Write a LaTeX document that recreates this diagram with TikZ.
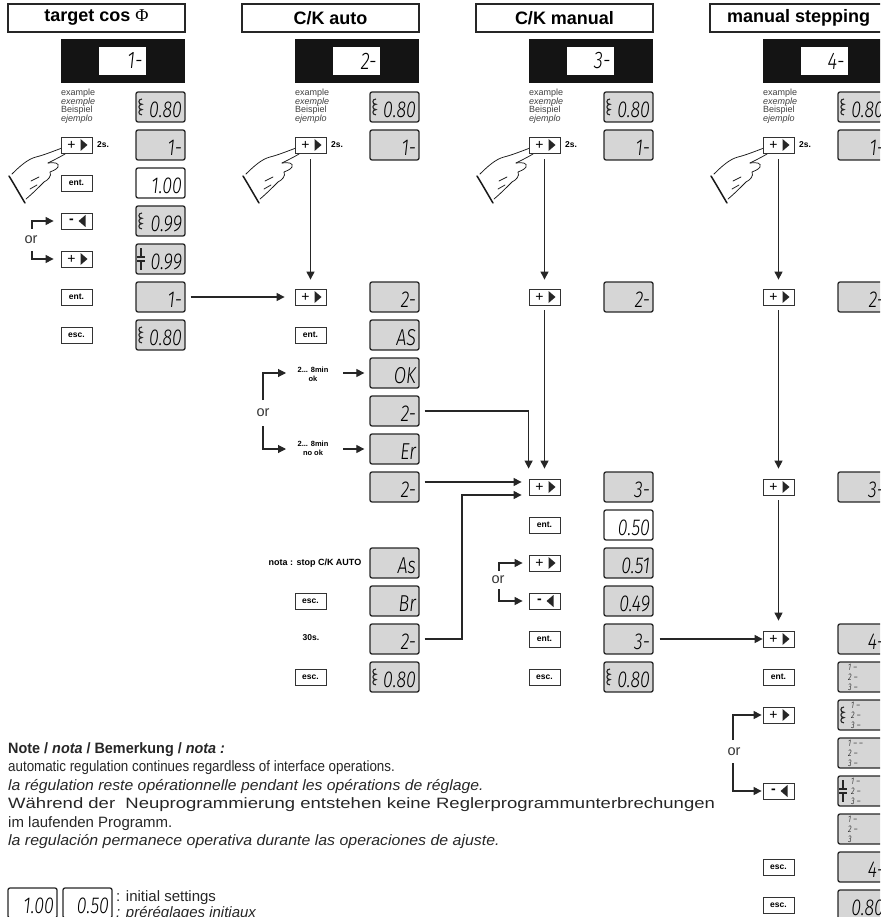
\documentclass[tikz,border=0pt]{standalone}
\usepackage{fontspec}
\usetikzlibrary{arrows.meta}
\setmainfont{Liberation Sans}
\newfontfamily\phifont{Liberation Serif}
\newfontfamily\notefont{Liberation Sans}
\IfFontExistsTF{Fira Sans Light Italic}{\newfontfamily\segfont{Fira Sans Light Italic}[FakeStretch=0.78]}{%
 \IfFontExistsTF{FiraSans-LightItalic.otf}{\newfontfamily\segfont{FiraSans-LightItalic.otf}[FakeStretch=0.78]}{%
 \newfontfamily\segfont{Liberation Sans}[FakeSlant=0.2,FakeStretch=0.8]}}

\tikzset{
 hdr/.style={draw=black!85, line width=1.2pt, minimum width=177pt, minimum height=28pt, inner sep=0pt, font=\bfseries\fontsize{18}{20}\selectfont},
 blk/.style={fill=black!92, minimum width=124pt, minimum height=44pt, inner sep=0pt},
 inw/.style={fill=white, minimum width=47pt, minimum height=28pt, inner sep=0pt, text width=41pt, align=right, font=\segfont\fontsize{24}{24}\selectfont},
 disp/.style={draw=black!85, line width=1.3pt, rounded corners=2pt, fill=black!16, minimum width=49pt, minimum height=30pt, inner sep=0pt, text width=43pt, align=right, text height=21pt, text depth=0pt, font=\segfont\fontsize{23}{23}\selectfont},
 dispw/.style={fill=white},
 btn/.style={draw=black!80, line width=0.8pt, fill=white, minimum width=31pt, minimum height=16pt, inner sep=0pt, font=\bfseries\fontsize{8.5}{9}\selectfont},
 btnsym/.style={inner sep=0pt, font=\fontsize{14}{14}\selectfont},
 lab/.style={font=\bfseries\fontsize{8.5}{9}\selectfont, inner sep=0pt},
 smlab/.style={font=\bfseries\fontsize{7.5}{9}\selectfont, inner sep=0pt, align=center},
 ortext/.style={font=\fontsize{14.5}{14.5}\selectfont, text=black!80, inner sep=0pt},
 extext/.style={anchor=north west, align=left, inner sep=0pt, text=black!75, font=\fontsize{9}{8.6}\selectfont},
 mtext/.style={anchor=west, align=left, inner sep=0pt, font=\segfont\fontsize{9.5}{10}\selectfont},
 note/.style={anchor=base west, inner sep=0pt, text=black!85, font=\notefont\fontsize{15}{18}\selectfont},
 ln/.style={line width=1.1pt, draw=black!85},
 arr/.style={ln, -{Triangle[length=8pt,width=8pt]}},
 symst/.style={line width=1.1pt, draw=black!85},
 handst/.style={line width=0.75pt, draw=black!90, line cap=round, line join=round}
}

\newcommand\dispbox[5][]{\node[disp,#1] (#2) at ({160.5+234*#3},{107+38*#4}) {#5};}
\newcommand\txtbtn[4]{\node[btn] (#1) at ({76.5+234*#2},{107+38*#3}) {#4};}
\newcommand\plusbtn[3]{\node[btn] (#1) at ({76.5+234*#2},{107+38*#3}) {};
 \node[btnsym] (#1s) at ([xshift=-5pt]#1.center) {+};
 \fill[black!85] ([shift={(4,-6)}]#1.center) -- ([shift={(4,6)}]#1.center) -- ([shift={(11,0)}]#1.center) -- cycle;}
\newcommand\minusbtn[3]{\node[btn] (#1) at ({76.5+234*#2},{107+38*#3}) {};
 \node[btnsym] (#1s) at ([xshift=-5pt]#1.center) {\bfseries -};
 \fill[black!85] ([shift={(2,0)}]#1.center) -- ([shift={(9,-6)}]#1.center) -- ([shift={(9,6)}]#1.center) -- cycle;}
\newcommand\coilsym[2]{\draw[symst] ({142+234*#1},{99+38*#2}) to[out=180,in=180,looseness=2] ++(0,5.3) to[out=180,in=180,looseness=2] ++(0,5.3) to[out=180,in=180,looseness=2] ++(0,5.3);}
\newcommand\capsym[2]{\draw[symst] ({141+234*#1},{96+38*#2}) -- ++(0,9) ++(-4,0) -- ++(8,0) ++(-8,4) -- ++(8,0) ++(-4,0) -- ++(0,9);}
\newcommand\handpic[1]{\begin{scope}[shift={({234*#1},0)}]
 \draw[handst] (12,174) .. controls (20,166) and (28,159) .. (36,157) .. controls (44,155) and (54,151) .. (62,148) .. controls (66,147) and (68,152) .. (65,154) .. controls (60,157) and (54,160) .. (48,163);
 \draw[handst] (48,163) .. controls (54,162) and (60,163) .. (58,167) .. controls (56,170) and (52,171) .. (50,172) .. controls (52,176) and (48,180) .. (44,182) .. controls (38,188) and (32,194) .. (26,199);
 \draw[handst, line width=1.5pt] (9,176) .. controls (14,184) and (19,193) .. (25,203);
 \draw[handst] (31,181) -- (39,177);
 \draw[handst] (30,189) -- (37,185);
\end{scope}}

\begin{document}
\begin{tikzpicture}[x=1pt,y=-1pt]
\useasboundingbox (0,0) rectangle (880,917);
\clip (0,0) rectangle (880,917);

% headers and black boxes
\node[hdr] (h0) at (96.5,18) {target cos {\phifont\mdseries Φ}};
\node[hdr] (h1) at (330.5,18) {C/K auto};
\node[hdr] (h2) at (564.5,18) {C/K manual};
\node[hdr] (h3) at (798.5,18) {manual stepping};
\foreach \k/\t in {0/1-,1/2-,2/3-,3/4-}{
 \node[blk] (bk\k) at ({123+234*\k},61) {};
 \node[inw] (iw\k) at ({122+234*\k},61) {\t};
 \node[extext] (ex\k) at ({61+234*\k},89) {example\\\textit{exemple}\\Beispiel\\\textit{ejemplo}};
 \node[lab, anchor=west] (ts\k) at ({97+234*\k},145) {2s.};
 \handpic{\k}
}

% ---------- column 0 : target cos phi
\plusbtn{a1}{0}{1}
\txtbtn{a2}{0}{2}{ent.}
\minusbtn{a3}{0}{3}
\plusbtn{a4}{0}{4}
\txtbtn{a5}{0}{5}{ent.}
\txtbtn{a6}{0}{6}{esc.}
\dispbox{A0}{0}{0}{0.80}\coilsym{0}{0}
\dispbox{A1}{0}{1}{1-}
\dispbox[dispw]{A2}{0}{2}{1.00}
\dispbox{A3}{0}{3}{0.99}\coilsym{0}{3}
\dispbox{A4}{0}{4}{0.99}\capsym{0}{4}
\dispbox{A5}{0}{5}{1-}
\dispbox{A6}{0}{6}{0.80}\coilsym{0}{6}
\coordinate (o0a) at (32,229);
\coordinate (o0b) at (32,251);
\draw[arr, shorten >=7pt] (o0a) |- (a3.west);
\draw[arr, shorten >=7pt] (o0b) |- (a4.west);
\node[ortext] (or0) at (31,240) {or};

% ---------- column 1 : C/K auto
\plusbtn{b1}{1}{1}
\plusbtn{b5}{1}{5}
\txtbtn{b6}{1}{6}{ent.}
\txtbtn{b13}{1}{13}{esc.}
\txtbtn{b15}{1}{15}{esc.}
\node[smlab] (t7) at (313,374) {2... 8min\\ok};
\node[smlab] (t9) at (313,448) {2... 8min\\no ok};
\node[lab, font=\bfseries\fontsize{9}{10}\selectfont] (t12) at (315,563) {nota : stop C/K AUTO};
\node[lab] (t14) at (311,638) {30s.};
\dispbox{B0}{1}{0}{0.80}\coilsym{1}{0}
\dispbox{B1}{1}{1}{1-}
\dispbox{B5}{1}{5}{2-}
\dispbox{B6}{1}{6}{AS}
\dispbox{B7}{1}{7}{OK}
\dispbox{B8}{1}{8}{2-}
\dispbox{B9}{1}{9}{Er}
\dispbox{B10}{1}{10}{2-}
\dispbox{B12}{1}{12}{As}
\dispbox{B13}{1}{13}{Br}
\dispbox{B14}{1}{14}{2-}
\dispbox{B15}{1}{15}{0.80}\coilsym{1}{15}

\draw[arr, shorten <=5pt, shorten >=10pt] (A5.east) -- (b5.west);
\draw[arr, shorten <=6pt, shorten >=9pt] (b1.south) -- (b5.north);
\coordinate (o1a) at (263,400); \coordinate (o1at) at (286,373);
\coordinate (o1b) at (263,426); \coordinate (o1bt) at (286,449);
\draw[arr] (o1a) |- (o1at);
\draw[arr] (o1b) |- (o1bt);
\node[ortext] (or1) at (263,413) {or};
\coordinate (t7a) at (343,373);
\coordinate (t9a) at (343,449);
\draw[arr, shorten >=5pt] (t7a) -- (B7.west);
\draw[arr, shorten >=5pt] (t9a) -- (B9.west);

% ---------- column 2 : C/K manual
\plusbtn{c1}{2}{1}
\plusbtn{c5}{2}{5}
\plusbtn{c10}{2}{10}
\txtbtn{c11}{2}{11}{ent.}
\plusbtn{c12}{2}{12}
\minusbtn{c13}{2}{13}
\txtbtn{c14}{2}{14}{ent.}
\txtbtn{c15}{2}{15}{esc.}
\dispbox{C0}{2}{0}{0.80}\coilsym{2}{0}
\dispbox{C1}{2}{1}{1-}
\dispbox{C5}{2}{5}{2-}
\dispbox{C10}{2}{10}{3-}
\dispbox[dispw]{C11}{2}{11}{0.50}
\dispbox{C12}{2}{12}{0.51}
\dispbox{C13}{2}{13}{0.49}
\dispbox{C14}{2}{14}{3-}
\dispbox{C15}{2}{15}{0.80}\coilsym{2}{15}

\draw[arr, shorten <=5pt, shorten >=10pt] (B8.east) -| (c10.north west);
\draw[arr, shorten <=5pt, shorten >=7pt] ([yshift=5pt]B10.east) -- ([yshift=5pt]c10.west);
\coordinate (j14) at (462,600);
\draw[arr, shorten <=5pt, shorten >=7pt] (B14.east) -- (B14.east -| j14) |- ([yshift=-8pt]c10.west);
\draw[arr, shorten <=6pt, shorten >=9pt] (c1.south) -- (c5.north);
\draw[arr, shorten <=5pt, shorten >=10pt] (c5.south) -- (c10.north);
\coordinate (o2a) at (499,571);
\coordinate (o2b) at (499,589);
\draw[arr, shorten >=6pt] (o2a) |- (c12.west);
\draw[arr, shorten >=6pt] (o2b) |- (c13.west);
\node[ortext] (or2) at (498,580) {or};

% ---------- column 3 : manual stepping
\plusbtn{d1}{3}{1}
\plusbtn{d5}{3}{5}
\plusbtn{d10}{3}{10}
\plusbtn{d14}{3}{14}
\txtbtn{d15}{3}{15}{ent.}
\plusbtn{d16}{3}{16}
\minusbtn{d18}{3}{18}
\txtbtn{d20}{3}{20}{esc.}
\txtbtn{d21}{3}{21}{esc.}
\dispbox{D0}{3}{0}{0.80}\coilsym{3}{0}
\dispbox{D1}{3}{1}{1-}
\dispbox{D5}{3}{5}{2-}
\dispbox{D10}{3}{10}{3-}
\dispbox{D14}{3}{14}{4-}
\dispbox{D15}{3}{15}{}
\dispbox{D16}{3}{16}{}\coilsym{3}{16}
\dispbox{D17}{3}{17}{}
\dispbox{D18}{3}{18}{}\capsym{3}{18}
\dispbox{D19}{3}{19}{}
\dispbox{D20}{3}{20}{4-}
\dispbox{D21}{3}{21}{0.80}
\node[mtext] (D15t) at (848,677) {1 –\\2 –\\3 –};
\node[mtext] (D16t) at (851,715) {1 –\\2 –\\3 –};
\node[mtext] (D17t) at (848,753) {1 – –\\2 –\\3 –};
\node[mtext] (D18t) at (851,791) {1 –\\2 –\\3 –};
\node[mtext] (D19t) at (848,829) {1 –\\2 –\\3};

\draw[arr, shorten <=6pt] (C14.east) -- (d14.west);
\draw[arr, shorten <=6pt, shorten >=9pt] (d1.south) -- (d5.north);
\draw[arr, shorten <=5pt, shorten >=10pt] (d5.south) -- (d10.north);
\draw[arr, shorten <=5pt, shorten >=10pt] (d10.south) -- (d14.north);
\coordinate (o3a) at (733,740);
\coordinate (o3b) at (733,763);
\draw[arr, shorten >=1pt] (o3a) |- (d16.west);
\draw[arr, shorten >=1pt] (o3b) |- (d18.west);
\node[ortext] (or3) at (734,752) {or};

% ---------- notes
\node[note, font=\notefont\bfseries\fontsize{15}{18}\selectfont] (n0) at (8,753) {\scalebox{0.96}[1]{Note / \textit{nota} / Bemerkung / \textit{nota :}}};
\node[note] (n1) at (8,771) {\scalebox{0.89}[1]{automatic regulation continues regardless of interface operations.}};
\node[note] (n2) at (8,790) {\scalebox{1.05}[1]{\textit{la régulation reste opérationnelle pendant les opérations de réglage.}}};
\node[note] (n3) at (8,808) {\scalebox{1.234}[1]{Während der\ \ Neuprogrammierung entstehen keine Reglerprogrammunterbrechungen}};
\node[note] (n4) at (8,827) {im laufenden Programm.};
\node[note] (n5) at (8,845) {\scalebox{1.06}[1]{\textit{la regulación permanece operativa durante las operaciones de ajuste.}}};
\node[disp, dispw] (L1) at (32.5,903) {1.00};
\node[disp, dispw] (L2) at (87.5,903) {0.50};
\node[note] (n6) at (116,901) {: initial settings};
\node[note] (n7) at (116,917) {\textit{: préréglages initiaux}};
\end{tikzpicture}
\end{document}
